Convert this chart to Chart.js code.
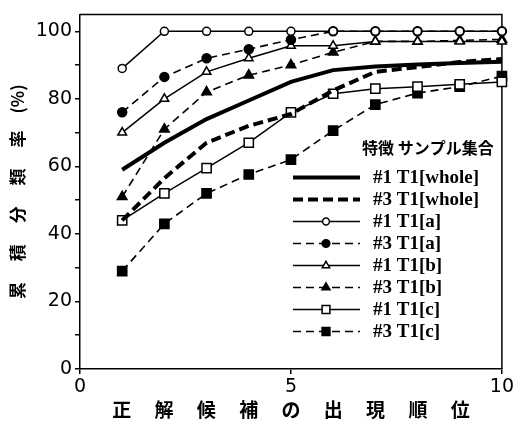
<!DOCTYPE html>
<html lang="ja">
<head>
<meta charset="UTF-8">
<title>累積分類率</title>
<script src="https://cdn.jsdelivr.net/npm/chart.js@4.4.1/dist/chart.umd.min.js"></script>
<style>
  body { margin: 0; background: #fff; }
  canvas { display: block; }
</style>
</head>
<body>
<canvas id="rankChart" width="516" height="421"></canvas>
<script>
  // data
  const ranks = [1, 2, 3, 4, 5, 6, 7, 8, 9, 10];
  const seriesNames = ['#1 T1[whole]', '#3 T1[whole]', '#1 T1[a]', '#3 T1[a]',
                       '#1 T1[b]', '#3 T1[b]', '#1 T1[c]', '#3 T1[c]'];
  const whole1 = [59, 67, 74, 79.5, 85, 88.5, 89.6, 90.2, 90.6, 91];
  const whole3 = [44, 56.5, 67, 72, 75.5, 82.5, 88, 89.4, 90.9, 91.8];
  const a1 = [89, 100, 100, 100, 100, 100, 100, 100, 100, 100];
  const a3 = [76, 86.5, 92, 94.7, 97.5, 100, 100, 100, 100, 100];
  const b1 = [70, 80, 88, 92, 95.7, 95.7, 97, 97, 97, 97];
  const b3 = [51, 71, 82, 87, 90, 93.8, 97, 97, 97.3, 97.6];
  const c1 = [44, 52, 59.5, 67, 76, 81.5, 83, 83.6, 84.3, 85];
  const c3 = [29, 43, 52, 57.6, 62, 70.6, 78.3, 81.7, 83.6, 86.7];
  const xTickLabels = [0, 5, 10];
  const yTickLabels = [0, 20, 40, 60, 80, 100];
  const legendTitle = '特徴 サンプル集合';
  const xTitle = '正　 解　 候　 補　 の　 出　 現　 順　 位';
  const yTitle = '累　 積　 分　 類　 率　(%)';

  const allValues = [whole1, whole3, a1, a3, b1, b3, c1, c3];

  // line / marker look per series
  const looks = [
    { width: 4, dash: [], point: false },
    { width: 4, dash: [10, 5], point: false },
    { width: 1.5, dash: [], point: 'circle', r: 4, fill: '#fff' },
    { width: 1.6, dash: [8, 5], point: 'circle', r: 4.5, fill: '#000' },
    { width: 1.5, dash: [], point: 'triangle', r: 5, fill: '#fff' },
    { width: 1.6, dash: [8, 5], point: 'triangle', r: 5.5, fill: '#000' },
    { width: 1.5, dash: [], point: 'rect', r: 6.5, fill: '#fff' },
    { width: 1.6, dash: [8, 5], point: 'rect', r: 6.5, fill: '#000' }
  ];

  const datasets = allValues.map((vals, i) => {
    const lk = looks[i];
    return {
      label: seriesNames[i],
      data: vals.map((v, j) => ({ x: ranks[j], y: v })),
      borderColor: '#000',
      borderWidth: lk.width,
      borderDash: lk.dash,
      pointStyle: lk.point || 'circle',
      pointRadius: lk.point ? lk.r : 0,
      pointBackgroundColor: lk.fill || '#000',
      pointBorderColor: '#000',
      pointBorderWidth: 1.5,
      tension: 0,
      clip: false,
      fill: false
    };
  });

  const framePlugin = {
    id: 'frame',
    beforeDatasetsDraw(chart) {
      const { ctx, chartArea: a } = chart;
      ctx.save();
      ctx.strokeStyle = '#000';
      ctx.lineWidth = 1.5;
      ctx.beginPath();
      ctx.moveTo(a.left, a.top);
      ctx.lineTo(a.right, a.top);
      ctx.lineTo(a.right, a.bottom);
      ctx.stroke();
      ctx.restore();
    }
  };

  const legendPlugin = {
    id: 'innerLegend',
    afterDatasetsDraw(chart) {
      const ctx = chart.ctx;
      ctx.save();
      ctx.fillStyle = '#000';
      ctx.textBaseline = 'middle';
      ctx.textAlign = 'left';
      ctx.font = 'bold 16px "Noto Sans CJK JP"';
      ctx.fillText(legendTitle, 362, 148);
      chart.data.datasets.forEach((ds, i) => {
        const y = 177.5 + i * 22;
        ctx.strokeStyle = '#000';
        ctx.lineWidth = ds.borderWidth;
        ctx.setLineDash(ds.borderDash);
        ctx.beginPath();
        ctx.moveTo(293, y);
        ctx.lineTo(360, y);
        ctx.stroke();
        ctx.setLineDash([]);
        if (ds.pointRadius > 0) {
          ctx.fillStyle = ds.pointBackgroundColor;
          ctx.lineWidth = ds.pointBorderWidth;
          Chart.helpers.drawPoint(ctx, {
            pointStyle: ds.pointStyle,
            radius: ds.pointRadius * 0.85,
            rotation: 0,
            borderWidth: ds.pointBorderWidth
          }, 326, y);
        }
        ctx.fillStyle = '#000';
        ctx.font = 'bold 19px "Liberation Serif"';
        ctx.fillText(ds.label, 373, y + 1);
      });
      ctx.restore();
    }
  };

  new Chart(document.getElementById('rankChart'), {
    type: 'line',
    data: { datasets },
    options: {
      responsive: false,
      animation: false,
      events: [],
      layout: { padding: { top: 7, right: 14, left: 0, bottom: 0 } },
      plugins: {
        legend: { display: false },
        tooltip: { enabled: false }
      },
      scales: {
        x: {
          type: 'linear',
          min: 0,
          max: 10,
          afterFit(scale) { scale.height = 52; },
          afterBuildTicks(scale) { scale.ticks = xTickLabels.map(v => ({ value: v })); },
          grid: { drawOnChartArea: false, color: '#000', tickLength: 5, lineWidth: 1.5 },
          border: { color: '#000', width: 1.5 },
          ticks: {
            color: '#000',
            padding: 2,
            maxRotation: 0,
            font: { family: '"DejaVu Sans"', size: 19 }
          },
          title: {
            display: true,
            text: xTitle,
            color: '#000',
            padding: { top: 0, bottom: 0 },
            font: { family: '"Noto Sans CJK JP"', size: 19, weight: 'bold' }
          }
        },
        y: {
          min: 0,
          max: 105,
          afterFit(scale) { scale.width = 80; },
          afterBuildTicks(scale) {
            const t = [];
            for (let v = 0; v <= 100; v += 10) t.push({ value: v });
            scale.ticks = t;
          },
          grid: { drawOnChartArea: false, color: '#000', tickLength: 5, lineWidth: 1.5 },
          border: { color: '#000', width: 1.5 },
          ticks: {
            color: '#000',
            padding: 3,
            font: { family: '"DejaVu Sans"', size: 19 },
            callback: v => (yTickLabels.includes(v) ? v : '')
          },
          title: {
            display: true,
            text: yTitle,
            color: '#000',
            padding: { top: 7, bottom: 0 },
            font: { family: '"Noto Sans CJK JP"', size: 17, weight: 'bold' }
          }
        }
      }
    },
    plugins: [framePlugin, legendPlugin]
  });
</script>
</body>
</html>
